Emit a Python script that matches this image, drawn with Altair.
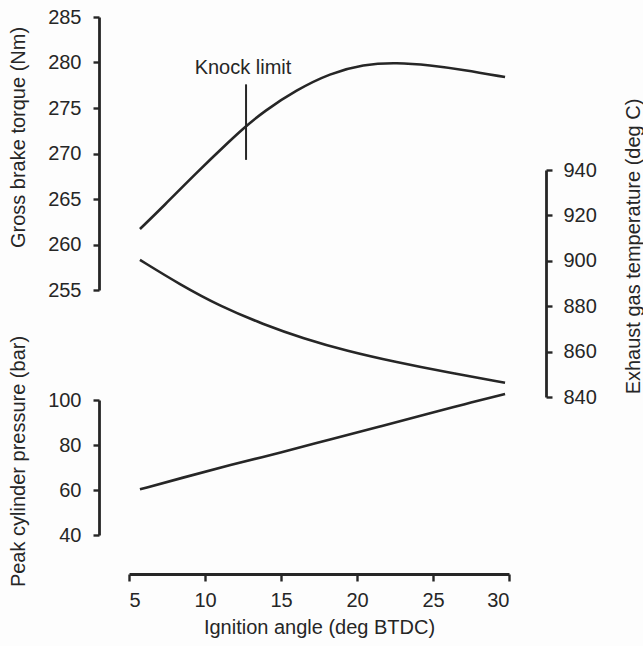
import altair as alt
import pandas as pd

# ---- data ----
torque_x = [5.72, 7.26, 9.45, 11.64, 12.63, 13.84, 16.03, 18.22, 20.41, 22.61, 24.8, 26.99, 29.74]
torque_y = [261.7, 264.2, 267.9, 271.4, 272.9, 274.6, 277.0, 278.8, 279.8, 280.0, 279.7, 279.2, 278.4]

exhaust_x = [5.72, 8.36, 10.99, 13.84, 16.47, 19.32, 22.61, 25.9, 29.74]
exhaust_y = [900.4, 889.5, 880.0, 872.0, 865.8, 860.3, 855.3, 850.9, 846.3]

pressure_x = [5.72, 8.5, 11.64, 15.0, 18.22, 21.5, 24.8, 27.0, 29.74]
pressure_y = [60.3, 65.4, 71.1, 76.6, 82.5, 88.2, 94.1, 98.0, 102.7]

knock_x = [12.7]
knock_y_top = [277.6]
knock_y_bottom = [269.3]
knock_label = ["Knock limit"]
knock_label_x = [12.5]
knock_label_y = [279.4]

x_ticks = [5, 10, 15, 20, 25, 30]
torque_ticks = [255, 260, 265, 270, 275, 280, 285]
exhaust_ticks = [840, 860, 880, 900, 920, 940]
pressure_ticks = [40, 60, 80, 100]

df_t = pd.DataFrame({"x": torque_x, "y": torque_y})
df_e = pd.DataFrame({"x": exhaust_x, "y": exhaust_y})
df_p = pd.DataFrame({"x": pressure_x, "y": pressure_y})
df_k = pd.DataFrame({"x": knock_x, "y": knock_y_top, "y2": knock_y_bottom})
df_kl = pd.DataFrame({"x": knock_label_x, "y": knock_label_y, "t": knock_label})

INK = "#262626"
FONT = "Liberation Sans"
FS = 20

x_enc = alt.X(
    "x:Q",
    scale=alt.Scale(domain=[5, 30], range=[30, 410], nice=False, zero=False),
    axis=alt.Axis(
        title="Ignition angle (deg BTDC)",
        values=x_ticks,
        tickSize=7,
        labelPadding=9,
        titleBaseline="middle",
        titleY=53,
    ),
)

line_style = dict(color=INK, strokeWidth=2.6, interpolate="basis")

torque_scale = alt.Scale(domain=[255, 285], range=[273, 0], nice=False, zero=False)

torque_line = alt.Chart(df_t).mark_line(**line_style).encode(
    x=x_enc,
    y=alt.Y(
        "y:Q",
        scale=torque_scale,
        axis=alt.Axis(
            title="Gross brake torque (Nm)",
            orient="left",
            values=torque_ticks,
            tickSize=6,
            labelPadding=12,
            titleAngle=270,
            titleBaseline="middle",
            titleX=-81,
            titleY=120,
        ),
    ),
)

knock_rule = alt.Chart(df_k).mark_rule(color=INK, strokeWidth=2).encode(
    x="x:Q", y="y:Q", y2="y2:Q"
)

knock_text = alt.Chart(df_kl).mark_text(
    font=FONT, fontSize=FS, color=INK, align="center", baseline="middle"
).encode(x="x:Q", y="y:Q", text="t:N")

torque_group = alt.layer(torque_line, knock_rule, knock_text)

exhaust_line = alt.Chart(df_e).mark_line(**line_style).encode(
    x=x_enc,
    y=alt.Y(
        "y:Q",
        scale=alt.Scale(domain=[840, 940], range=[380, 153], nice=False, zero=False),
        axis=alt.Axis(
            title="Exhaust gas temperature (deg C)",
            orient="right",
            values=exhaust_ticks,
            tickSize=6,
            labelPadding=11,
            titleAngle=270,
            titleBaseline="middle",
            titleX=87,
            titleY=229,
        ),
    ),
)

pressure_line = alt.Chart(df_p).mark_line(**line_style).encode(
    x=x_enc,
    y=alt.Y(
        "y:Q",
        scale=alt.Scale(domain=[40, 100], range=[518, 383], nice=False, zero=False),
        axis=alt.Axis(
            title="Peak cylinder pressure (bar)",
            orient="left",
            values=pressure_ticks,
            tickSize=6,
            labelPadding=12,
            titleAngle=270,
            titleBaseline="middle",
            titleX=-81,
            titleY=444,
        ),
    ),
)

chart = (
    alt.layer(torque_group, exhaust_line, pressure_line)
    .resolve_scale(y="independent")
    .properties(
        width=447,
        height=557,
        padding={"left": 99, "top": 17, "right": 97, "bottom": 72},
        autosize=alt.AutoSizeParams(type="none"),
        background="#fdfdfd",
    )
    .configure_view(stroke=None)
    .configure_axis(
        grid=False,
        domainColor=INK,
        domainWidth=2.8,
        tickColor=INK,
        tickWidth=2.4,
        labelColor=INK,
        titleColor=INK,
        labelFont=FONT,
        titleFont=FONT,
        labelFontSize=FS,
        titleFontSize=FS,
        titleFontWeight="normal",
    )
)

chart.save("out.html", embed_options={"renderer": "svg", "actions": False})
